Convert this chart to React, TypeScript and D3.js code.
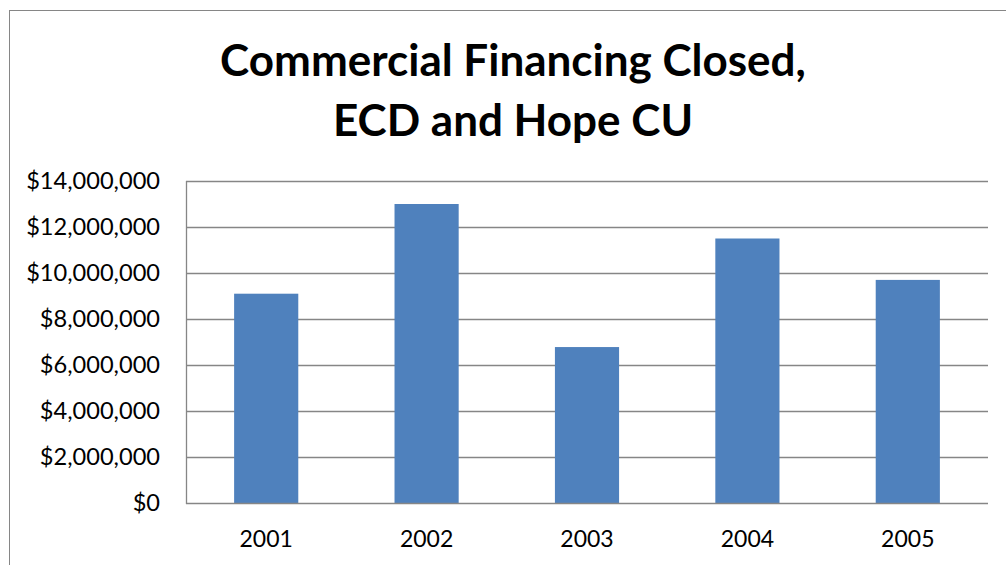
import React, { useEffect, useRef } from "react";
import * as d3 from "d3";

// chart data
const years = ["2001", "2002", "2003", "2004", "2005"];
const financing = [9100000, 13000000, 6780000, 11500000, 9700000];
const yTicks = [0, 2000000, 4000000, 6000000, 8000000, 10000000, 12000000, 14000000];
const titleLines = ["Commercial Financing Closed,", "ECD and Hope CU"];

const WIDTH = 1006;
const HEIGHT = 565;

export default function App() {
  const svgRef = useRef<SVGSVGElement>(null);

  useEffect(() => {
    if (!svgRef.current) return;
    const svg = d3.select(svgRef.current);
    svg.selectAll("*").remove();

    const plot = { left: 186, right: 988, top: 181, bottom: 503 };
    const grey = "#868686";
    const font = "Lato, 'Open Sans', sans-serif";

    // outer chart frame
    svg
      .append("rect")
      .attr("x", 9.5)
      .attr("y", 10.5)
      .attr("width", 1010)
      .attr("height", 600)
      .attr("fill", "#fff")
      .attr("stroke", grey)
      .attr("stroke-width", 1);

    // title
    svg
      .append("g")
      .selectAll("text")
      .data(titleLines)
      .join("text")
      .attr("x", 513)
      .attr("y", (_d, i) => 76 + i * 60)
      .attr("text-anchor", "middle")
      .attr("font-family", font)
      .attr("font-weight", "bold")
      .attr("font-size", 44)
      .attr("fill", "#000")
      .text((d) => d);

    const x = d3
      .scaleBand<string>()
      .domain(years)
      .range([plot.left, plot.right])
      .paddingInner(0.6)
      .paddingOuter(0.3);

    const y = d3.scaleLinear().domain([0, 14000000]).range([plot.bottom, plot.top]);

    // gridlines
    svg
      .append("g")
      .selectAll("line")
      .data(yTicks.filter((t) => t > 0))
      .join("line")
      .attr("x1", plot.left)
      .attr("x2", plot.right)
      .attr("y1", (d) => Math.round(y(d)) + 0.5)
      .attr("y2", (d) => Math.round(y(d)) + 0.5)
      .attr("stroke", grey)
      .attr("stroke-width", 1.3);

    // bars
    svg
      .append("g")
      .selectAll("rect")
      .data(financing)
      .join("rect")
      .attr("x", (_d, i) => x(years[i])!)
      .attr("width", x.bandwidth())
      .attr("y", (d) => y(d))
      .attr("height", (d) => plot.bottom - y(d))
      .attr("fill", "#4F81BD");

    // axes lines
    svg
      .append("line")
      .attr("x1", plot.left + 0.5)
      .attr("x2", plot.left + 0.5)
      .attr("y1", plot.top)
      .attr("y2", plot.bottom + 1)
      .attr("stroke", grey)
      .attr("stroke-width", 1.3);
    svg
      .append("line")
      .attr("x1", plot.left)
      .attr("x2", plot.right)
      .attr("y1", plot.bottom + 0.5)
      .attr("y2", plot.bottom + 0.5)
      .attr("stroke", grey)
      .attr("stroke-width", 1.5);

    // y tick labels
    const fmt = d3.format("$,");
    svg
      .append("g")
      .selectAll("text")
      .data(yTicks)
      .join("text")
      .attr("x", plot.left - 26)
      .attr("y", (d) => y(d))
      .attr("dy", "0.36em")
      .attr("text-anchor", "end")
      .attr("font-family", font)
      .attr("font-size", 23.6)
      .attr("fill", "#000")
      .text((d) => fmt(d));

    // x labels
    svg
      .append("g")
      .selectAll("text")
      .data(years)
      .join("text")
      .attr("x", (d) => x(d)! + x.bandwidth() / 2)
      .attr("y", 547)
      .attr("text-anchor", "middle")
      .attr("font-family", font)
      .attr("font-size", 23)
      .attr("fill", "#000")
      .text((d) => d);
  }, []);

  return (
    <svg
      ref={svgRef}
      width={WIDTH}
      height={HEIGHT}
      style={{ position: "absolute", left: 0, top: 0, background: "#fff" }}
    />
  );
}
